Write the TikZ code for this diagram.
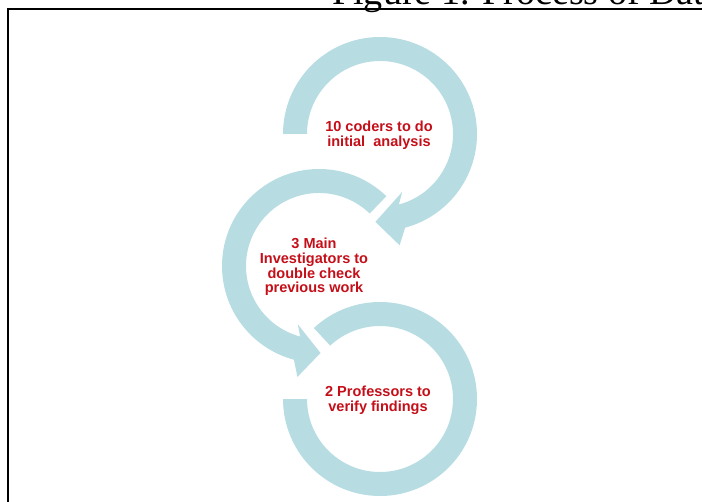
\documentclass[tikz,border=0pt]{standalone}
\usepackage{fontspec}
\setmainfont{Liberation Serif}
\newfontfamily\lblfont{Liberation Sans}
\usetikzlibrary{calc}
\definecolor{ringblue}{RGB}{183,221,227}
\definecolor{lblred}{RGB}{196,14,24}

\begin{document}
\begin{tikzpicture}[x=0.03cm,y=0.03cm,ring/.style={fill=ringblue},lbl/.style={text=lblred,align=center,font=\lblfont\bfseries\fontsize{12.4}{12.6}\selectfont}]
\useasboundingbox (0,0) rectangle (702,501);
\clip (0,0) rectangle (702,501);
\coordinate (c1) at (380,367);
\coordinate (c2) at (319,235);
\coordinate (c3) at (380,102);
% frame and cut title
\draw[line width=1.7pt] (8,-10) -- (8,492) -- (712,492);
\node[anchor=base west,inner sep=0pt,font=\fontsize{32.5}{36}\selectfont] (title) at (332,496) {Figure 1. Process of Dat};
% circular arrows
\fill[ring] ([shift={(133:97)}]c3) arc[start angle=133,end angle=-180,radius=97] -- ([shift={(180:73)}]c3) arc[start angle=-180,end angle=133,radius=73] -- cycle;
\fill[ring] ([shift={(46:97)}]c2) arc[start angle=46,end angle=255,radius=97] -- ([shift={(259:113)}]c2) -- ([shift={(271:87)}]c2) -- ([shift={(250:62)}]c2) -- ([shift={(255:73)}]c2) arc[start angle=255,end angle=46,radius=73] -- cycle;
\fill[ring] ([shift={(180:97)}]c1) arc[start angle=180,end angle=-75,radius=97] -- ([shift={(-80:113)}]c1) -- ([shift={(-93:88)}]c1) -- ([shift={(-69:62)}]c1) -- ([shift={(-75:73)}]c1) arc[start angle=-75,end angle=180,radius=73] -- cycle;
% labels
\node[lbl] (coders) at (379,366) {10 coders to do\\initial\ \ analysis};
\node[lbl] (investigators) at (314,234) {3 Main\\Investigators to\\double check\\previous work};
\node[lbl] (professors) at (378,101) {2 Professors to\\verify findings};
\end{tikzpicture}
\end{document}
